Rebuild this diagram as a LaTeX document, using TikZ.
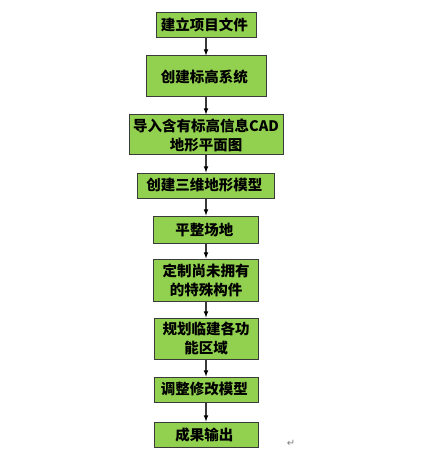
\documentclass[tikz,border=0pt]{standalone}
\usepackage{fontspec}
\setmainfont{Noto Sans CJK SC}
\newfontfamily\symfont{DejaVu Sans}
\definecolor{stagegreen}{HTML}{92D050}
\definecolor{linegray}{HTML}{3A3A3A}

\begin{document}
\begin{tikzpicture}[x=1pt, y=-1pt,
		stage/.style={shape=rectangle, draw=linegray, line width=1pt, fill=stagegreen, align=center,
			inner sep=0pt, font=\fontsize{14.5}{19}\selectfont\bfseries},
		flow/.style={draw=linegray, line width=1.1pt, -latex}]
			\useasboundingbox (0,0) rectangle (425,457);
			
			\node (z1)[stage, minimum width=100, minimum height=25] 
			at (206,25){
				建立项目文件
			}; 
				
			\node (z2)[stage, minimum width=120, minimum height=41] 
			at (206,76.5){
				创建标高系统
			}; 	
			
			\node (z3)[stage, minimum width=154, minimum height=40] 
			at (206,135){
				导入含有标高信息CAD \\
				地形平面图
			}; 	
			
			\node (z4)[stage, minimum width=137, minimum height=25] 
			at (206,185.5){
				创建三维地形模型
			}; 
			
			\node (z5)[stage, minimum width=105, minimum height=27] 
			at (206,229.5){
				平整场地
			}; 
					
			\node (z6)[stage, minimum width=105, minimum height=42] 
			at (206,280){
				定制尚未拥有 \\
				的特殊构件
			};
			
			\node (z7)[stage, minimum width=104, minimum height=41] 
			at (206,338.5){
				规划临建各功 \\
				能区域
			};
			
			\node (z8)[stage, minimum width=104, minimum height=25] 
			at (206,389.5){
				调整修改模型
			};
			
			\node (z9)[stage, minimum width=104, minimum height=25] 
			at (206,434.5){
				成果输出
			};
			
			\node (ret)[text=gray, font=\symfont\fontsize{10}{10}\selectfont] 
			at (291,443){↵};
			
			\path[flow] (z1) edge (z2);
			\path[flow] (z2) edge (z3);
			\path[flow] (z3) edge (z4);
			\path[flow] (z4) edge (z5);
			\path[flow] (z5) edge (z6);
			\path[flow] (z6) edge (z7);	
			\path[flow] (z7) edge (z8);
			\path[flow] (z8) edge (z9);
		\end{tikzpicture}
\end{document}
